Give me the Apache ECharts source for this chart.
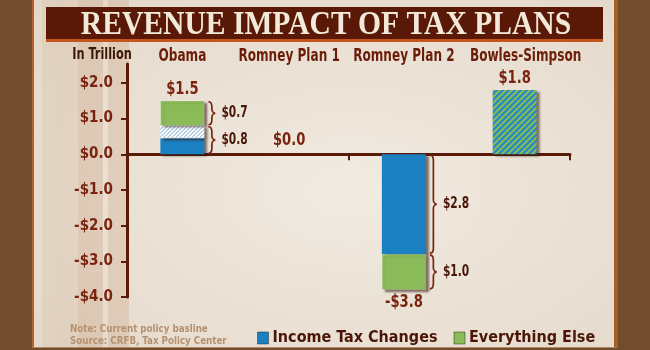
<!DOCTYPE html>
<html><head><meta charset="utf-8">
<script src="https://cdn.jsdelivr.net/npm/echarts@6/dist/echarts.min.js"></script>
<style>
html,body{margin:0;padding:0;background:#6e4a2c;width:650px;height:350px;overflow:hidden}
#bg{position:absolute;left:0;top:0;width:650px;height:350px;background:#724d2d}
#panel{position:absolute;left:32px;top:0;width:580px;height:347px;border-left:2px solid #b6622c;border-right:4px solid #a0602a;border-bottom:1px solid #b08a68;
 background:
 linear-gradient(90deg, rgba(0,0,0,0) 0, rgba(0,0,0,0) 8px, rgba(215,190,165,0.30) 8px, rgba(215,190,165,0.30) 22px, rgba(210,180,150,0.25) 22px, rgba(210,180,150,0.25) 44px, rgba(205,170,140,0.40) 44px, rgba(205,170,140,0.40) 69px, rgba(0,0,0,0) 69px, rgba(0,0,0,0) 74px, rgba(205,170,140,0.35) 74px, rgba(205,170,140,0.35) 95px, rgba(0,0,0,0) 95px),
 radial-gradient(ellipse at 55% 55%, #f2ebe1 0, #ebe2d6 45%, #e3d7c8 100%)}
#c{position:absolute;left:0;top:0;width:650px;height:350px}
</style>
</head><body><div id="bg"></div><div id="panel"></div><div id="c"></div>
<script>
const categories = ['Obama', 'Romney Plan 1', 'Romney Plan 2', 'Bowles-Simpson'];
const incomeTax = [0.45, null, -2.8, null];
const incomeTaxHatched = [0.35, null, null, null];
const everythingElse = [0.7, null, -1.0, null];
const bowlesMixed = [null, null, null, 1.8];
const totals = [1.5, 0.0, -3.8, 1.8];
const braceCategory = [0, 0, 2, 2];
const braceFrom = [0, 0.8, 0, -2.8];
const braceTo = [0.8, 1.5, -2.8, -3.8];
const yTicks = [-4, -3, -2, -1, 0, 1, 2];

const F = "'DejaVu Sans'";
const W = 'bold condensed';
const BROWN = '#7a2410';
const DARK = '#4a1608';

function stripes(c1, c2, s, dir) {
  const cv = document.createElement('canvas');
  cv.width = s; cv.height = s;
  const ctx = cv.getContext('2d');
  for (let x = 0; x < s; x++) for (let y = 0; y < s; y++) {
    const k = dir > 0 ? (x + y) % s : (x - y + s) % s;
    ctx.fillStyle = k < s / 2 ? c2 : c1;
    ctx.fillRect(x, y, 1, 1);
  }
  return { image: cv, repeat: 'repeat' };
}
function money(v) { return (v < 0 ? '-$' : '$') + Math.abs(v).toFixed(1); }
function txt(str, x, y, size, color, sx, align) {
  return { type: 'text', x: x, y: y, scaleX: sx, style: { text: str, x: 0, y: 0, align: align || 'center', verticalAlign: 'middle', font: W + ' ' + size + 'px ' + F, fill: color } };
}

const shadow = { shadowColor: 'rgba(40,15,0,0.55)', shadowBlur: 2, shadowOffsetX: 3, shadowOffsetY: 2 };

const chart = echarts.init(document.getElementById('c'), null, { renderer: 'canvas' });
chart.setOption({
  animation: false,
  backgroundColor: 'transparent',
  grid: { left: 127, right: 80, top: 64, bottom: 53, containLabel: false },
  xAxis: {
    type: 'category', data: categories,
    axisLine: { onZero: true, lineStyle: { color: '#5a1a08', width: 3 } },
    axisTick: { show: true, length: 6, lineStyle: { color: '#5a1a08', width: 2 } },
    axisLabel: { show: false }, splitLine: { show: false }
  },
  yAxis: {
    type: 'value', min: -4, max: 2.53, interval: 1,
    axisLine: { show: true, lineStyle: { color: '#5a1a08', width: 3 } },
    axisTick: { show: true, length: 6, customValues: yTicks, lineStyle: { color: '#5a1a08', width: 2 } },
    axisLabel: { customValues: yTicks, margin: 14, fontFamily: F, fontWeight: W, fontSize: 15, color: BROWN, formatter: v => money(v) },
    splitLine: { show: false }
  },
  legend: {
    data: ['Income Tax Changes', 'Everything Else'],
    left: 252, top: 325, itemWidth: 11, itemHeight: 12, itemGap: 16, icon: 'rect',
    itemStyle: { borderColor: 'rgba(20,30,20,0.45)', borderWidth: 1 },
    textStyle: { fontFamily: F, fontWeight: W, fontSize: 16, color: DARK, padding: [0, 0, 0, -1] }
  },
  series: [
    { name: 'Income Tax Changes', type: 'bar', stack: 'a', barWidth: 44, data: incomeTax,
      itemStyle: Object.assign({ color: '#1a80c2' }, shadow) },
    { name: 'Income Tax (phased)', type: 'bar', stack: 'a', barWidth: 44, data: incomeTaxHatched,
      itemStyle: Object.assign({ color: stripes('#ffffff', '#b6d3ea', 4, 1) }, shadow) },
    { name: 'Everything Else', type: 'bar', stack: 'a', barWidth: 44, data: everythingElse,
      itemStyle: Object.assign({ color: '#8bbb59', borderColor: 'rgba(255,255,255,0.35)', borderWidth: 0.5 }, shadow) },
    { name: 'Bowles-Simpson Mix', type: 'bar', stack: 'a', barWidth: 44, data: bowlesMixed,
      itemStyle: Object.assign({ color: stripes('#2a8cc6', '#7fb95a', 6, 1) }, shadow) },
    { name: 'Category labels', type: 'custom', encode: { x: 0 }, z: 5,
      data: categories.map((c, i) => [i]),
      renderItem: (params, api) => {
        const i = api.value(0);
        const p = api.coord([i, 0]);
        const shift = i === 3 ? 11 : (i === 1 ? -4 : 0);
        return txt(categories[i], p[0] + shift, params.coordSys.y - 7, 17, '#6b1d0a', 0.79);
      } },
    { name: 'Totals', type: 'custom', encode: { x: 0, y: 1 }, z: 5,
      data: totals.map((v, i) => [i, v]),
      renderItem: (params, api) => {
        const v = api.value(1);
        const p = api.coord([api.value(0), v]);
        const dx = v === 0 ? -4 : 0;
        return txt(money(v), p[0] + dx, p[1] + (v < 0 ? 13 : (v === 0 ? -14 : -11)), 17, BROWN, 0.86);
      } },
    { name: 'Braces', type: 'custom', encode: { x: 0, y: [1, 2] }, z: 5,
      data: braceCategory.map((c, i) => [c, braceFrom[i], braceTo[i]]),
      renderItem: (params, api) => {
        const a = api.coord([api.value(0), api.value(1)]);
        const b = api.coord([api.value(0), api.value(2)]);
        const x0 = a[0] + 22 + 4;
        const y0 = Math.min(a[1], b[1]) + 1, y1 = Math.max(a[1], b[1]) - 1;
        const m = (y0 + y1) / 2, w = 7, xm = x0 + w * 0.5;
        const d = `M${x0},${y0} C${x0 + 3},${y0} ${xm},${y0 + 2} ${xm},${y0 + 5} L${xm},${m - 4} C${xm},${m - 1} ${x0 + w - 1},${m} ${x0 + w},${m} C${x0 + w - 1},${m} ${xm},${m + 1} ${xm},${m + 4} L${xm},${y1 - 5} C${xm},${y1 - 2} ${x0 + 3},${y1} ${x0},${y1}`;
        const val = Math.abs(api.value(2) - api.value(1));
        return { type: 'group', children: [
          { type: 'path', shape: { pathData: d }, style: { fill: null, stroke: '#7a2410', lineWidth: 1.7 } },
          txt(money(val), x0 + 13, m, 16, DARK, 0.74, 'left')
        ] };
      } }
  ],
  graphic: [
    { type: 'rect', shape: { x: 46, y: 7, width: 557, height: 34 }, style: { fill: '#5a1806' } },
    { type: 'rect', shape: { x: 46, y: 39, width: 557, height: 3 }, style: { fill: '#c2561c' } },
    { type: 'text', x: 326, y: 25, scaleX: 0.87, style: { text: 'REVENUE IMPACT OF TAX PLANS', align: 'center', verticalAlign: 'middle',
      font: 'bold 34px "Liberation Serif", "DejaVu Serif", serif', fill: '#f3e9d8' } },
    txt('In Trillion', 102, 55, 15, '#3a1606', 0.84),
    txt('Note: Current policy basline', 70, 329, 11, '#b5916f', 0.88, 'left'),
    txt('Source: CRFB, Tax Policy Center', 70, 341, 11, '#b5916f', 0.88, 'left')
  ]
});
</script>
</body></html>
